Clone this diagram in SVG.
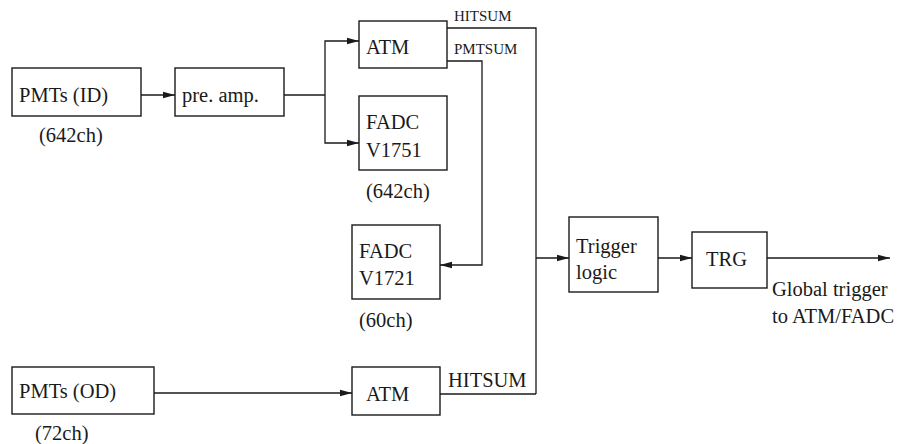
<svg xmlns="http://www.w3.org/2000/svg" width="906" height="444" viewBox="0 0 906 444">
  <defs>
    <marker id="arrow" viewBox="0 0 12 8" refX="12" refY="4" markerWidth="12" markerHeight="8" markerUnits="userSpaceOnUse" orient="auto">
      <path d="M0,0.8 L12,4 L0,7.2 Z" fill="#1a1a1a"/>
    </marker>
  </defs>
  <style>
    .box { fill: #ffffff; stroke: #1a1a1a; stroke-width: 1.4; }
    .lbl { font-size: 20.5px; fill: #1a1a1a; }
    .sig { font-size: 15px; fill: #1a1a1a; }
    .wire { fill: none; stroke: #1a1a1a; stroke-width: 1.3; }
    .arr { fill: none; stroke: #1a1a1a; stroke-width: 1.3; marker-end: url(#arrow); }
  </style>
  <rect width="906" height="444" fill="#ffffff"/>

  <g font-family="Liberation Serif, DejaVu Serif, serif">
  <g id="pmt-id">
    <rect class="box" x="12" y="68" width="129" height="48"/>
    <text class="lbl" x="19" y="102">PMTs (ID)</text>
    <text class="lbl" x="39" y="142">(642ch)</text>
  </g>

  <g id="preamp">
    <rect class="box" x="175" y="68" width="109" height="48"/>
    <text class="lbl" x="182" y="102">pre. amp.</text>
  </g>

  <g id="atm-id">
    <rect class="box" x="359" y="21" width="88" height="47"/>
    <text class="lbl" x="366" y="54">ATM</text>
  </g>

  <g id="fadc-v1751">
    <rect class="box" x="359" y="96" width="88" height="74"/>
    <text class="lbl" x="366" y="129">FADC</text>
    <text class="lbl" x="366" y="157">V1751</text>
    <text class="lbl" x="366" y="198">(642ch)</text>
  </g>

  <g id="fadc-v1721">
    <rect class="box" x="352" y="225" width="88" height="74"/>
    <text class="lbl" x="359" y="258">FADC</text>
    <text class="lbl" x="359" y="285">V1721</text>
    <text class="lbl" x="359" y="327">(60ch)</text>
  </g>

  <g id="pmt-od">
    <rect class="box" x="12" y="367" width="142" height="47"/>
    <text class="lbl" x="19" y="398">PMTs (OD)</text>
    <text class="lbl" x="35" y="440">(72ch)</text>
  </g>

  <g id="atm-od">
    <rect class="box" x="352" y="367" width="88" height="48"/>
    <text class="lbl" x="366" y="401">ATM</text>
  </g>

  <g id="trigger-logic">
    <rect class="box" x="569" y="217" width="89" height="75"/>
    <text class="lbl" x="576" y="253">Trigger</text>
    <text class="lbl" x="576" y="279">logic</text>
  </g>

  <g id="trg">
    <rect class="box" x="692" y="232" width="75" height="56"/>
    <text class="lbl" x="706" y="266">TRG</text>
  </g>

  <g id="connectors">
    <!-- PMTs (ID) to pre-amplifier -->
    <line class="arr" x1="141" y1="95" x2="175" y2="95"/>
    <!-- pre-amplifier fan-out to ATM and FADC V1751 -->
    <polyline class="wire" points="284,95 325,95"/>
    <polyline class="arr" points="325,95 325,41 359,41"/>
    <polyline class="arr" points="325,95 325,143 359,143"/>
    <!-- HITSUM from ID ATM down the trigger bus -->
    <polyline class="wire" points="447,28 536,28 536,394"/>
    <!-- PMTSUM to FADC V1721 -->
    <polyline class="arr" points="447,61 482,61 482,265 440,265"/>
    <!-- PMTs (OD) to OD ATM -->
    <line class="arr" x1="154" y1="393" x2="352" y2="393"/>
    <!-- HITSUM from OD ATM onto the bus -->
    <polyline class="wire" points="440,394 536,394"/>
    <!-- bus to trigger logic -->
    <line class="arr" x1="536" y1="258" x2="569" y2="258"/>
    <line class="arr" x1="658" y1="258" x2="692" y2="258"/>
    <line class="arr" x1="767" y1="258" x2="890" y2="258"/>
    <text class="sig" x="454" y="21">HITSUM</text>
    <text class="sig" x="454" y="54">PMTSUM</text>
    <text class="lbl" x="448" y="387">HITSUM</text>
    <text class="lbl" x="772" y="296">Global trigger</text>
    <text class="lbl" x="772" y="323">to ATM/FADC</text>
  </g>
  </g>
</svg>
